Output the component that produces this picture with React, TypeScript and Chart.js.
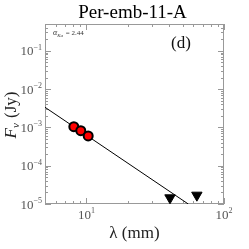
import React, { useEffect, useRef } from 'react';
import { Chart, registerables } from 'chart.js';

Chart.register(...registerables);

// ---- data ----
const detWavelength = [8.1, 9.1, 10.3];
const detFlux = [1.04e-3, 8.2e-4, 6.0e-4];
const limWavelength = [40.5, 63.5];
const limFlux = [1.45e-5, 1.7e-5];
const fitWavelength = [5, 55];
const fitFlux = [3.35e-3, 1.0e-5];
const xDecadeExps = [1, 2];
const yDecadeExps = [-5, -4, -3, -2, -1];
const xRange = [5, 100];
const yRange = [1e-5, 0.5];
const titleText = 'Per-emb-11-A';
const panelLabel = '(d)';
const alphaLabel = '2.44';

const SERIF = '"Liberation Serif", "DejaVu Serif", serif';
const FRAME = '#999999';
const LABEL = '#555555';

const sup = (s: string) => s.replace('-', '\u2212');

const decorPlugin = {
  id: 'decor',
  beforeDatasetsDraw(chart: any) {
    const ctx = chart.ctx as CanvasRenderingContext2D;
    const { left, right, top, bottom } = chart.chartArea;
    const xs = chart.scales.x;
    const ys = chart.scales.y;
    ctx.save();
    ctx.strokeStyle = FRAME;
    ctx.lineWidth = 1;
    ctx.strokeRect(left + 0.5, top + 0.5, right - left - 1, bottom - top - 1);
    const minorLen = 3;
    const majorLen = 6;
    ctx.beginPath();
    for (let e = -1; e <= 3; e++) {
      for (let m = 1; m <= 9; m++) {
        const v = m * Math.pow(10, e);
        if (v < xRange[0] * 0.999 || v > xRange[1] * 1.001) continue;
        const px = Math.round(xs.getPixelForValue(v)) + 0.5;
        const len = m === 1 ? majorLen : minorLen;
        ctx.moveTo(px, bottom);
        ctx.lineTo(px, bottom - len);
        ctx.moveTo(px, top);
        ctx.lineTo(px, top + len);
      }
    }
    for (let e = -6; e <= 0; e++) {
      for (let m = 1; m <= 9; m++) {
        const v = m * Math.pow(10, e);
        if (v < yRange[0] * 0.999 || v > yRange[1] * 1.001) continue;
        const py = Math.round(ys.getPixelForValue(v)) + 0.5;
        const len = m === 1 ? majorLen : minorLen;
        ctx.moveTo(left, py);
        ctx.lineTo(left + len, py);
        ctx.moveTo(right, py);
        ctx.lineTo(right - len, py);
      }
    }
    ctx.stroke();
    ctx.restore();
  },
  afterDraw(chart: any) {
    const ctx = chart.ctx as CanvasRenderingContext2D;
    const { left, right, top, bottom } = chart.chartArea;
    const xs = chart.scales.x;
    const ys = chart.scales.y;
    const cx = (left + right) / 2;
    ctx.save();
    ctx.fillStyle = LABEL;
    yDecadeExps.forEach((e) => {
      const py = ys.getPixelForValue(Math.pow(10, e));
      ctx.font = `8px ${SERIF}`;
      const expStr = sup(String(e));
      const ew = ctx.measureText(expStr).width;
      ctx.textBaseline = 'alphabetic';
      ctx.textAlign = 'right';
      ctx.fillText(expStr, left - 3, py - 1);
      ctx.font = `13px ${SERIF}`;
      ctx.fillText('10', left - 3 - ew, py + 4.5);
    });
    xDecadeExps.forEach((e) => {
      const px = xs.getPixelForValue(Math.pow(10, e));
      ctx.font = `13px ${SERIF}`;
      const bw = ctx.measureText('10').width;
      ctx.font = `8px ${SERIF}`;
      const expStr = String(e);
      const ew = ctx.measureText(expStr).width;
      const x0 = px - (bw + ew) / 2;
      ctx.textAlign = 'left';
      ctx.textBaseline = 'alphabetic';
      ctx.font = `13px ${SERIF}`;
      ctx.fillText('10', x0, bottom + 15);
      ctx.font = `8px ${SERIF}`;
      ctx.fillText(expStr, x0 + bw, bottom + 9);
    });
    ctx.fillStyle = '#000';
    ctx.font = `19px ${SERIF}`;
    ctx.textAlign = 'center';
    ctx.textBaseline = 'middle';
    ctx.fillText(titleText, cx - 2, 13);
    ctx.fillStyle = '#222';
    ctx.font = `17px ${SERIF}`;
    ctx.fillText('\u03bb (mm)', cx, 234);
    ctx.save();
    ctx.translate(12, (top + bottom) / 2 + 1);
    ctx.rotate(-Math.PI / 2);
    ctx.textBaseline = 'middle';
    ctx.textAlign = 'left';
    ctx.font = `italic 17px ${SERIF}`;
    const fW = ctx.measureText('F').width;
    ctx.font = `italic 11px ${SERIF}`;
    const nW = ctx.measureText('\u03bd').width;
    ctx.font = `17px ${SERIF}`;
    const jW = ctx.measureText(' (Jy)').width;
    let x = -(fW + nW + 1 + jW) / 2;
    ctx.font = `italic 17px ${SERIF}`;
    ctx.fillText('F', x, 0);
    x += fW;
    ctx.font = `italic 11px ${SERIF}`;
    ctx.fillText('\u03bd', x, 4);
    x += nW + 1;
    ctx.font = `17px ${SERIF}`;
    ctx.fillText(' (Jy)', x, 0);
    ctx.restore();
    ctx.fillStyle = '#333';
    ctx.textAlign = 'left';
    ctx.textBaseline = 'alphabetic';
    ctx.font = `italic 8px ${SERIF}`;
    ctx.fillText('\u03b1', left + 8, top + 11);
    const aW = ctx.measureText('\u03b1').width;
    ctx.font = `italic 5px ${SERIF}`;
    ctx.fillText('Ka', left + 8 + aW, top + 13);
    const kW = ctx.measureText('Ka').width;
    ctx.font = `7px ${SERIF}`;
    ctx.fillText(' = ' + alphaLabel, left + 8 + aW + kW + 1, top + 11);
    ctx.fillStyle = '#111';
    ctx.font = `17px ${SERIF}`;
    ctx.textAlign = 'center';
    ctx.textBaseline = 'middle';
    ctx.fillText(panelLabel, 181, top + 20);
    ctx.restore();
  },
};

export default function App() {
  const ref = useRef<HTMLCanvasElement | null>(null);
  useEffect(() => {
    if (!ref.current) return;
    const chart = new Chart(ref.current, {
      type: 'scatter',
      data: {
        datasets: [
          {
            type: 'line',
            label: 'fit',
            data: fitWavelength.map((x, i) => ({ x, y: fitFlux[i] })),
            borderColor: '#000',
            borderWidth: 1,
            pointRadius: 0,
            fill: false,
            order: 3,
          } as any,
          {
            label: 'detections',
            data: detWavelength.map((x, i) => ({ x, y: detFlux[i] })),
            backgroundColor: '#ff0000',
            borderColor: '#000',
            borderWidth: 2,
            pointRadius: 4.5,
            order: 1,
          },
          {
            label: 'upper limits',
            data: limWavelength.map((x, i) => ({ x, y: limFlux[i] })),
            backgroundColor: '#000',
            borderColor: '#000',
            borderWidth: 1,
            pointStyle: 'triangle',
            pointRotation: 180,
            pointRadius: 6,
            order: 2,
          },
        ],
      },
      options: {
        animation: false,
        responsive: false,
        layout: { padding: { top: 24, right: 25, left: 0, bottom: 0 } },
        plugins: {
          legend: { display: false },
          title: { display: false },
          tooltip: { enabled: false },
        },
        scales: {
          x: {
            type: 'logarithmic',
            min: xRange[0],
            max: xRange[1],
            grid: { display: false, drawTicks: false },
            border: { display: false },
            ticks: { display: false },
            afterFit: (s: any) => {
              s.height = 45;
            },
          },
          y: {
            type: 'logarithmic',
            min: yRange[0],
            max: yRange[1],
            grid: { display: false, drawTicks: false },
            border: { display: false },
            ticks: { display: false },
            afterFit: (s: any) => {
              s.width = 45;
            },
          },
        },
      },
      plugins: [decorPlugin],
    });
    return () => chart.destroy();
  }, []);
  return (
    <div style={{ position: 'fixed', left: 0, top: 0, width: 249, height: 249, background: '#fff' }}>
      <canvas ref={ref} width={249} height={249} style={{ width: 249, height: 249 }} />
    </div>
  );
}
